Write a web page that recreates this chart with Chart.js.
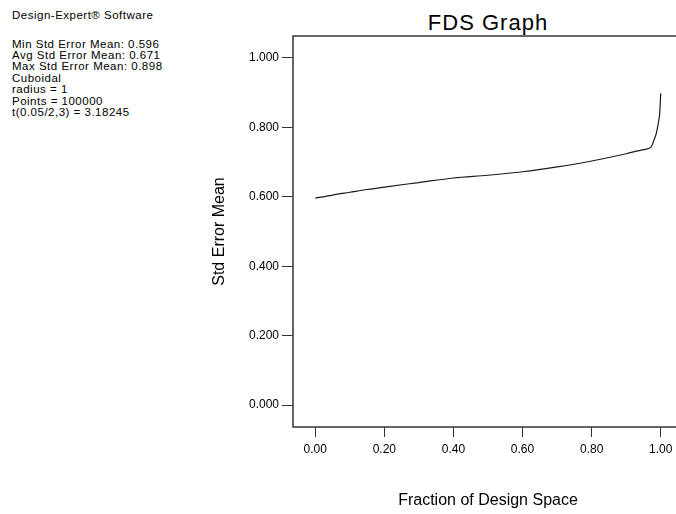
<!DOCTYPE html>
<html lang="en">
<head>
  <meta charset="UTF-8" />
  <title>FDS Graph</title>
  <script src="https://cdn.jsdelivr.net/npm/chart.js"></script>
  <style>
    html, body {
      margin: 0;
      padding: 0;
      width: 676px;
      height: 514px;
      overflow: hidden;
      background: #fff;
    }
    body {
      position: relative;
      font-family: "Liberation Sans", Arial, sans-serif;
      color: #000;
    }
    #chart {
      position: absolute;
      left: 0;
      top: 0;
    }
    .info {
      position: absolute;
      left: 12px;
      font-size: 11.5px;
      line-height: 11.4px;
      letter-spacing: 0.5px;
      white-space: pre;
    }
    #title {
      position: absolute;
      left: 293px;
      width: 390px;
      top: 10px;
      text-align: center;
      font-size: 22px;
      line-height: 26px;
      letter-spacing: 1px;
    }
  </style>
</head>
<body>

<div class="info" style="top: 10px;">Design-Expert® Software</div>
<div class="info" style="top: 38.5px;" id="infoLines"></div>
<div id="title">FDS Graph</div>
<canvas id="chart" width="684" height="514"></canvas>

<script>
  // FDS curve
  const fraction = [0, 0.05, 0.1, 0.15, 0.2, 0.3, 0.4, 0.5, 0.6, 0.7, 0.8, 0.9, 0.95, 0.972, 0.98, 0.987, 0.993, 0.997, 1.0];
  const stdErr   = [0.596, 0.605, 0.613, 0.621, 0.628, 0.641, 0.654, 0.662, 0.672, 0.686, 0.703, 0.724, 0.736, 0.743, 0.762, 0.782, 0.812, 0.840, 0.898];

  const xTicks = [0, 0.2, 0.4, 0.6, 0.8, 1.0];
  const yTicks = [0, 0.2, 0.4, 0.6, 0.8, 1.0];

  const infoText = [
    'Min Std Error Mean: 0.596',
    'Avg Std Error Mean: 0.671',
    'Max Std Error Mean: 0.898',
    'Cuboidal',
    'radius = 1',
    'Points = 100000',
    't(0.05/2,3) = 3.18245'
  ];
  document.getElementById('infoLines').textContent = infoText.join('\n');

  const FONT = '"Liberation Sans", Arial, sans-serif';
  const AXIS = '#333';

  // box round the plot: left, bottom and the top line running off to the right
  const frame = {
    id: 'frame',
    afterDraw(chart) {
      const { ctx, chartArea: a } = chart;
      ctx.save();
      ctx.strokeStyle = AXIS;
      ctx.lineWidth = 1.5;
      ctx.beginPath();
      ctx.moveTo(chart.width, a.top);
      ctx.lineTo(a.left, a.top);
      ctx.lineTo(a.left, a.bottom);
      ctx.lineTo(chart.width, a.bottom);
      ctx.stroke();
      ctx.restore();
    }
  };

  new Chart(document.getElementById('chart'), {
    type: 'scatter',
    data: {
      datasets: [{
        data: fraction.map((x, i) => ({ x: x, y: stdErr[i] })),
        showLine: true,
        borderColor: '#1a1a1a',
        borderWidth: 1.2,
        pointRadius: 0,
        cubicInterpolationMode: 'monotone'
      }]
    },
    options: {
      responsive: false,
      animation: false,
      layout: { padding: { top: 36, right: 1, left: 0, bottom: 0 } },
      plugins: {
        legend: { display: false },
        tooltip: { enabled: false }
      },
      scales: {
        x: {
          type: 'linear',
          min: -0.0645,
          max: 1.0645,
          afterBuildTicks: s => { s.ticks = xTicks.map(v => ({ value: v })); },
          afterFit: s => { s.height = 87; },
          border: { display: false },
          grid: { drawOnChartArea: false, color: AXIS, tickLength: 10, lineWidth: 1 },
          ticks: {
            color: '#000',
            padding: 5,
            maxRotation: 0,
            font: { family: FONT, size: 12 },
            callback: v => v.toFixed(2)
          },
          title: {
            display: true,
            text: 'Fraction of Design Space',
            color: '#000',
            font: { family: FONT, size: 16 },
            padding: { top: 0, bottom: 4 }
          }
        },
        y: {
          min: -0.063,
          max: 1.063,
          afterBuildTicks: s => { s.ticks = yTicks.map(v => ({ value: v })); },
          afterFit: s => { s.width = 293; },
          border: { display: false },
          grid: { drawOnChartArea: false, color: AXIS, tickLength: 11, lineWidth: 1 },
          ticks: {
            color: '#000',
            padding: 3,
            font: { family: FONT, size: 12 },
            callback: v => v.toFixed(3)
          },
          title: {
            display: true,
            text: 'Std Error Mean',
            color: '#000',
            font: { family: FONT, size: 16 },
            padding: { top: 210, bottom: 0 }
          }
        }
      }
    },
    plugins: [frame]
  });
</script>

</body>
</html>
